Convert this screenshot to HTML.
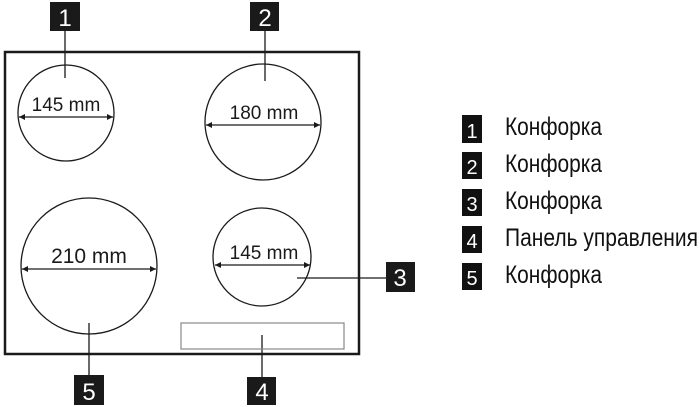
<!DOCTYPE html>
<html><head><meta charset="utf-8"><style>body{margin:0;background:#fff}svg{display:block}</style></head><body>
<svg width="700" height="407" viewBox="0 0 700 407" xmlns="http://www.w3.org/2000/svg" font-family="Liberation Sans, sans-serif">
<defs><marker id="a" viewBox="0 0 10 10" refX="10" refY="5" markerWidth="9" markerHeight="6" orient="auto-start-reverse" markerUnits="userSpaceOnUse"><path d="M0,0L10,5L0,10z" fill="#1a1a1a"/></marker></defs>
<rect x="5" y="52" width="354" height="302" fill="none" stroke="#1a1a1a" stroke-width="2.5"/>
<g fill="none" stroke="#1a1a1a" stroke-width="1.3">
<circle cx="66" cy="113" r="48"/>
<circle cx="263" cy="122" r="58"/>
<circle cx="89" cy="266" r="68"/>
<circle cx="262" cy="257" r="49"/>
<line x1="65" y1="31" x2="65" y2="78"/>
<line x1="265" y1="31" x2="265" y2="81"/>
<line x1="89" y1="323" x2="89" y2="376"/>
<line x1="297" y1="278" x2="386" y2="278"/>
<line x1="262" y1="335" x2="262" y2="378"/>
<line x1="19" y1="117" x2="113" y2="117" marker-start="url(#a)" marker-end="url(#a)"/>
<line x1="206" y1="125" x2="320" y2="125" marker-start="url(#a)" marker-end="url(#a)"/>
<line x1="22" y1="269" x2="156" y2="269" marker-start="url(#a)" marker-end="url(#a)"/>
<line x1="215" y1="265" x2="310" y2="265" marker-start="url(#a)" marker-end="url(#a)"/>
</g>
<rect x="181" y="323" width="163" height="26" fill="none" stroke="#888" stroke-width="1.2"/>
<g fill="#1a1a1a" font-size="19">
<text x="66" y="111" text-anchor="middle">145 mm</text>
<text x="264" y="119" text-anchor="middle">180 mm</text>
<text x="89" y="263" text-anchor="middle" font-size="21">210 mm</text>
<text x="264" y="259" text-anchor="middle">145 mm</text>
</g>
<g fill="#1a1a1a">
<rect x="50" y="2" width="30" height="29"/><rect x="250" y="2" width="29" height="29"/>
<rect x="386" y="262" width="29" height="30"/><rect x="247" y="377" width="29" height="28"/>
<rect x="74" y="375" width="30" height="30"/>
</g>
<g fill="#fff" font-size="24" text-anchor="middle">
<text x="65" y="26">1</text><text x="265" y="26">2</text><text x="400" y="286">3</text>
<text x="262" y="400">4</text><text x="89" y="400">5</text>
</g>
<g fill="#111">
<rect x="462" y="115" width="20" height="28"/><rect x="462" y="152" width="20" height="27"/>
<rect x="462" y="189" width="20" height="27"/><rect x="462" y="226" width="20" height="27"/>
<rect x="462" y="263" width="20" height="27"/>
</g>
<g fill="#fff" font-size="20" text-anchor="middle">
<text x="472" y="138">1</text><text x="472" y="174">2</text><text x="472" y="211">3</text><text x="472" y="248">4</text><text x="472" y="285">5</text>
</g>
<g fill="#111" font-size="25">
<text x="505" y="135" textLength="97" lengthAdjust="spacingAndGlyphs">Конфорка</text>
<text x="505" y="172" textLength="97" lengthAdjust="spacingAndGlyphs">Конфорка</text>
<text x="505" y="209" textLength="97" lengthAdjust="spacingAndGlyphs">Конфорка</text>
<text x="505" y="246" textLength="193" lengthAdjust="spacingAndGlyphs">Панель управления</text>
<text x="505" y="283" textLength="97" lengthAdjust="spacingAndGlyphs">Конфорка</text>
</g>
</svg>
</body></html>
